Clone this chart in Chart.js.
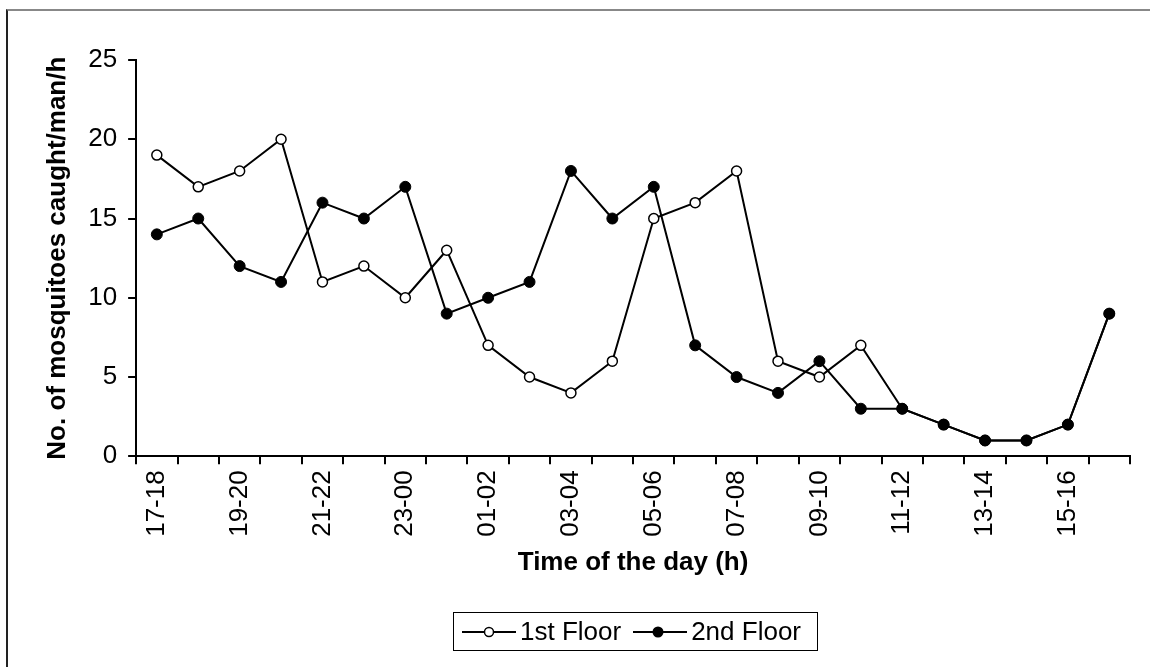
<!DOCTYPE html>
<html>
<head>
<meta charset="utf-8">
<script src="https://cdn.jsdelivr.net/npm/chart.js@4"></script>
<style>
  html, body { margin: 0; padding: 0; background: #fff; }
  #wrap { position: relative; width: 1150px; height: 667px; overflow: hidden; }
  #frame { position: absolute; left: 6px; top: 9px; width: 1150px; height: 700px;
           border-top: 2px solid #888; border-left: 2px solid #222; }
  #legend { position: absolute; left: 453px; top: 612px; width: 365px; height: 39px;
            border: 1.5px solid #000; box-sizing: border-box;
            font: 26px "Liberation Sans", Arial, sans-serif; color: #000;
            display: flex; align-items: center; padding-left: 8px; }
  #legend span { margin-right: 12px; }
  #legend svg { margin-right: 4px; }
</style>
</head>
<body>
<div id="wrap">
  <div id="frame"></div>
  <canvas id="chart" width="1150" height="667"></canvas>
  <div id="legend">
    <svg width="54" height="14"><line x1="0" y1="7" x2="54" y2="7" stroke="#000" stroke-width="2"/><circle cx="27" cy="7" r="4.5" fill="#fff" stroke="#000" stroke-width="1.5"/></svg><span>1st Floor</span>
    <svg width="54" height="14"><line x1="0" y1="7" x2="54" y2="7" stroke="#000" stroke-width="2"/><circle cx="25" cy="7" r="5.5" fill="#000"/></svg><span>2nd Floor</span>
  </div>
</div>
<script>
// time slots (h)
const hours = ['17-18', '18-19', '19-20', '20-21', '21-22', '22-23', '23-00', '00-01',
  '01-02', '02-03', '03-04', '04-05', '05-06', '06-07', '07-08', '08-09',
  '09-10', '10-11', '11-12', '12-13', '13-14', '14-15', '15-16', '16-17'];

const firstFloor = [19, 17, 18, 20, 11, 12, 10, 13, 7, 5, 4, 6, 15, 16, 18, 6, 5, 7, 3, 2, 1, 1, 2, 9];
const secondFloor = [14, 15, 12, 11, 16, 15, 17, 9, 10, 11, 18, 15, 17, 7, 5, 4, 6, 3, 3, 2, 1, 1, 2, 9];

const yTicks = [0, 5, 10, 15, 20, 25];

const font = { family: '"Liberation Sans", Arial, sans-serif', size: 26 };
const titleFont = { family: '"Liberation Sans", Arial, sans-serif', size: 26, weight: 'bold' };

const ctx = document.getElementById('chart').getContext('2d');

new Chart(ctx, {
    type: 'line',
    data: {
        labels: hours,
        datasets: [
            {
                label: '2nd Floor',
                data: secondFloor,
                borderColor: '#000',
                borderWidth: 2,
                pointBackgroundColor: '#000',
                pointBorderColor: '#000',
                pointRadius: 5.5,
                pointBorderWidth: 1,
                tension: 0
            },
            {
                label: '1st Floor',
                data: firstFloor,
                borderColor: '#000',
                borderWidth: 2,
                pointBackgroundColor: '#fff',
                pointBorderColor: '#000',
                pointRadius: 5,
                pointBorderWidth: 1.5,
                tension: 0
            }
        ]
    },
    options: {
        responsive: false,
        animation: false,
        layout: { padding: { left: 42, right: 20, top: 60, bottom: 85 } },
        plugins: {
            legend: { display: false },
            tooltip: { enabled: false }
        },
        scales: {
            x: {
                offset: true,
                grid: { drawOnChartArea: false, drawTicks: true, tickLength: 8, color: '#000', lineWidth: 2, offset: true },
                border: { display: true, color: '#000', width: 2 },
                ticks: {
                    color: '#000',
                    font: font,
                    autoSkip: false,
                    maxRotation: 90,
                    minRotation: 90,
                    padding: 6,
                    callback: (v, i) => (i % 2 === 0 ? hours[i] : '')
                },
                title: { display: true, text: 'Time of the day (h)', color: '#000', font: titleFont, padding: { top: 4 } }
            },
            y: {
                min: 0,
                max: 25,
                afterBuildTicks: (axis) => { axis.ticks = yTicks.map(v => ({ value: v })); },
                grid: { drawOnChartArea: false, drawTicks: true, tickLength: 8, color: '#000', lineWidth: 2 },
                border: { display: true, color: '#000', width: 2 },
                ticks: { color: '#000', font: font, padding: 11 },
                title: { display: true, text: 'No. of mosquitoes caught/man/h', color: '#000', font: titleFont, padding: { top: 0, bottom: 4 } }
            }
        }
    }
});
</script>
</body>
</html>
